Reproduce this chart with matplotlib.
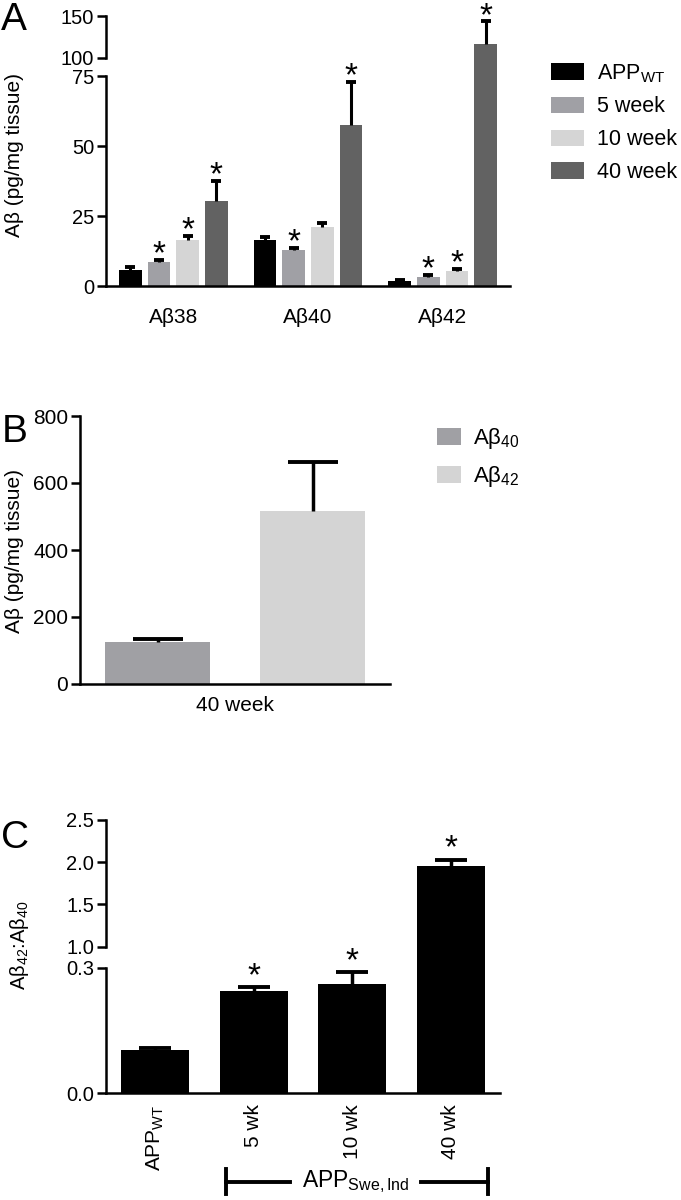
import numpy as np
import matplotlib
matplotlib.use('Agg')
import matplotlib.pyplot as plt
from matplotlib import font_manager
from matplotlib.scale import FuncScale
from matplotlib.lines import Line2D

plt.rcParams['font.family'] = ['Liberation Sans', 'DejaVu Sans']
plt.rcParams['mathtext.fontset'] = 'custom'
plt.rcParams['mathtext.rm'] = 'Liberation Sans'
plt.rcParams['mathtext.it'] = 'Liberation Sans:italic'

names = {f.name for f in font_manager.fontManager.ttflist}
narrow = 'Liberation Sans Narrow' if 'Liberation Sans Narrow' in names else 'Liberation Sans'

# ---- data: panel A ----
peptides = ['Aβ38', 'Aβ40', 'Aβ42']
series_a = [r'APP$_{\mathrm{WT}}$', '5 week', '10 week', '40 week']
wt_vals = [5.8, 16.3, 1.8]
wt_err = [1.0, 1.2, 0.2]
wk5_vals = [8.7, 12.8, 3.3]
wk5_err = [0.7, 0.8, 0.6]
wk10_vals = [16.5, 21.0, 5.5]
wk10_err = [1.3, 1.4, 0.6]
wk40_vals = [30.3, 57.5, 116.5]
wk40_err = [7.3, 15.5, 27.0]
sig_a = [[False, False, False], [True, True, True], [True, False, True], [True, True, True]]

# ---- data: panel B ----
b_labels = [r'Aβ$_{40}$', r'Aβ$_{42}$']
b_vals = [125, 517]
b_err = [9, 146]

# ---- data: panel C ----
c_labels = [r'APP$_{\mathrm{WT}}$', '5 wk', '10 wk', '40 wk']
c_vals = [0.103, 0.244, 0.262, 1.95]
c_err = [0.006, 0.009, 0.028, 0.08]
sig_c = [False, True, True, True]

colors_a = ['#000000', '#a0a0a5', '#d5d5d5', '#626262']
colors_b = ['#a0a0a4', '#d4d4d4']


def broken(lo, hi, gap, k):
    # piecewise linear scale: [0, lo] normal, (lo, hi) squeezed, [hi, ...] compressed by k
    def fwd(y):
        y = np.asarray(y, dtype=float)
        return np.where(y <= lo, y, np.where(y < hi, lo + (y - lo) * gap / (hi - lo),
                                            lo + gap + (y - hi) * k))

    def inv(t):
        t = np.asarray(t, dtype=float)
        return np.where(t <= lo, t, np.where(t < lo + gap, lo + (t - lo) * (hi - lo) / gap,
                                            hi + (t - lo - gap) / k))
    return fwd, inv


def style(ax, lw=1.8):
    for s in ['top', 'right']:
        ax.spines[s].set_visible(False)
    ax.spines['bottom'].set_linewidth(lw)
    ax.spines['left'].set_linewidth(lw)
    ax.tick_params(axis='y', direction='out', length=6.5, width=lw, labelsize=14.5, pad=2)
    ax.tick_params(axis='x', length=0)


def upper_errbar(ax, xs, vals, errs, **kw):
    eb = ax.errorbar(xs, vals, yerr=[np.zeros(len(errs)), errs], fmt='none', ecolor='k',
                     zorder=3, **kw)
    eb[1][0].set_visible(False)  # no cap at the bar top
    return eb


fig = plt.figure(figsize=(6.81, 12), dpi=100)

# ================= Panel A =================
axA = fig.add_axes([106 / 681, 1 - 286 / 1200, 404 / 681, 270 / 1200])
style(axA)
axA.set_yscale(FuncScale(axA, broken(75, 100, 6.43, 0.3)))
axA.set_ylim(0, 150)
axA.set_xlim(-0.5, 2.5)
x = np.arange(len(peptides))
step, width = 0.213, 0.167
all_vals = [wt_vals, wk5_vals, wk10_vals, wk40_vals]
all_err = [wt_err, wk5_err, wk10_err, wk40_err]
handles = []
for i, (vals, errs) in enumerate(zip(all_vals, all_err)):
    xi = x + (i - 1.5) * step
    h = axA.bar(xi, vals, width, color=colors_a[i], zorder=2)
    handles.append(h)
    upper_errbar(axA, xi, vals, errs, elinewidth=2.2, capsize=3.5, capthick=2.8)
    for j in range(len(vals)):
        if sig_a[i][j]:
            axA.annotate('*', xy=(xi[j], vals[j] + errs[j]), xytext=(0, -2.5),
                         textcoords='offset points', ha='center', va='baseline',
                         fontsize=24)
axA.spines['left'].set_visible(False)
ytr = axA.get_yaxis_transform()
axA.plot([0, 0], [0, 75], transform=ytr, color='k', lw=1.8, clip_on=False, zorder=5)
axA.plot([0, 0], [100, 150], transform=ytr, color='k', lw=1.8, clip_on=False, zorder=5)
axA.set_yticks([0, 25, 50, 75, 100, 150])
axA.set_xticks(x)
axA.set_xticklabels(peptides, fontsize=15)
axA.tick_params(axis='x', pad=16)
axA.legend(handles, series_a, loc='upper left', bbox_to_anchor=(551 / 681, 1 - 62 / 1200),
           bbox_transform=fig.transFigure, frameon=False, fontsize=15.5, handlelength=1.55,
           handleheight=0.8, handletextpad=0.6, labelspacing=0.55, borderpad=0, borderaxespad=0)
fig.text(15 / 681, 1 - 155 / 1200, 'Aβ (pg/mg tissue)', rotation=90, ha='center', va='center',
         fontsize=15)
fig.text(0.002, 1 - 20 / 1200, 'A', ha='left', va='center', fontsize=28)

# ================= Panel B =================
axB = fig.add_axes([80 / 681, 1 - 684 / 1200, 310 / 681, 268 / 1200])
style(axB)
axB.set_ylim(0, 800)
axB.set_xlim(-0.5, 1.5)
bx = np.arange(len(b_vals))
hb = []
for i in range(len(b_vals)):
    hb.append(axB.bar(bx[i], b_vals[i], 0.68, color=colors_b[i], zorder=2))
upper_errbar(axB, bx, b_vals, b_err, elinewidth=2.5, capsize=18, capthick=2.8)
axB.set_yticks([0, 200, 400, 600, 800])
for t in axB.get_yticklabels():
    t.set_fontfamily(narrow)
    t.set_fontsize(15)
axB.set_xticks([0.5])
axB.set_xticklabels(['40 week'], fontsize=15)
axB.tick_params(axis='x', pad=9)
axB.legend(hb, b_labels, loc='upper left', bbox_to_anchor=(437 / 681, 1 - 426 / 1200),
           bbox_transform=fig.transFigure, frameon=False, fontsize=16, handlelength=1.1,
           handleheight=0.8, handletextpad=0.5, labelspacing=0.6, borderpad=0, borderaxespad=0)
fig.text(15 / 681, 1 - 551 / 1200, 'Aβ (pg/mg tissue)', rotation=90, ha='center', va='center',
         fontsize=15)
fig.text(0.002, 1 - 432 / 1200, 'B', ha='left', va='center', fontsize=28)

# ================= Panel C =================
axC = fig.add_axes([106 / 681, 1 - 1093.3 / 1200, 394 / 681, 273.3 / 1200])
style(axC)
axC.set_yscale(FuncScale(axC, broken(0.3, 1.0, 0.0502, 0.2018)))
axC.set_ylim(0, 2.5)
axC.set_xlim(-0.5, 3.5)
cx = np.arange(len(c_vals))
axC.bar(cx, c_vals, 0.69, color='k', zorder=2)
upper_errbar(axC, cx, c_vals, c_err, elinewidth=2.5, capsize=11.5, capthick=2.8)
for j in range(len(c_vals)):
    if sig_c[j]:
        axC.annotate('*', xy=(cx[j], c_vals[j] + c_err[j]), xytext=(0, 1.5),
                     textcoords='offset points', ha='center', va='baseline', fontsize=24)
axC.spines['left'].set_visible(False)
ytr = axC.get_yaxis_transform()
axC.plot([0, 0], [0, 0.3], transform=ytr, color='k', lw=1.8, clip_on=False, zorder=5)
axC.plot([0, 0], [1.0, 2.5], transform=ytr, color='k', lw=1.8, clip_on=False, zorder=5)
axC.set_yticks([0.0, 0.3, 1.0, 1.5, 2.0, 2.5])
axC.set_yticklabels(['0.0', '0.3', '1.0', '1.5', '2.0', '2.5'])
axC.set_xticks(cx)
axC.set_xticklabels(c_labels, rotation=90, fontsize=15)
axC.tick_params(axis='x', pad=8)
fig.text(20 / 681, 1 - 945 / 1200, r'Aβ$_{42}$:Aβ$_{40}$', rotation=90, ha='center', va='center',
         fontsize=14.5)
fig.text(0.002, 1 - 838 / 1200, 'C', ha='left', va='center', fontsize=28)

# bracket under panel C
yb = 1 - 1182 / 1200
for xs, ys in [([226, 290], [yb, yb]), ([421, 488], [yb, yb]),
               ([226, 226], [1 - 1169 / 1200, 1 - 1194 / 1200]),
               ([488, 488], [1 - 1169 / 1200, 1 - 1194 / 1200])]:
    fig.add_artist(Line2D([v / 681 for v in xs], ys, color='k', lw=2.8))
fig.text(356 / 681, yb, r'APP$_{\mathrm{Swe,Ind}}$', ha='center', va='center', fontsize=16.5)

fig.savefig('out.png', dpi=100)
